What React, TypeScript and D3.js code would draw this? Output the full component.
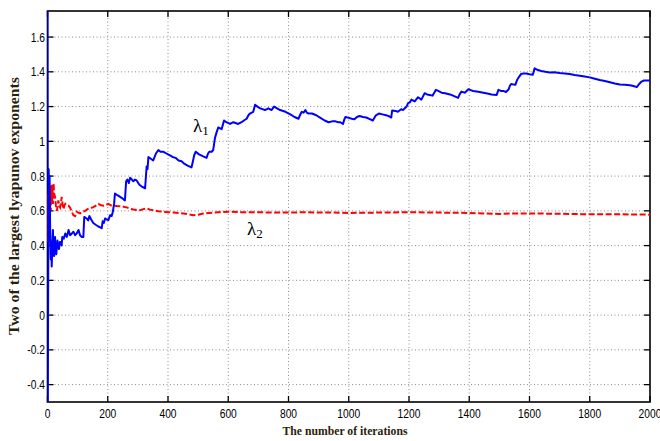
import React from "react";
import * as d3 from "d3";

const xTicks = [0, 200, 400, 600, 800, 1000, 1200, 1400, 1600, 1800, 2000];
const yTicks = [-0.4, -0.2, 0, 0.2, 0.4, 0.6, 0.8, 1, 1.2, 1.4, 1.6];
const yTickLabels = ["-0.4", "-0.2", "0", "0.2", "0.4", "0.6", "0.8", "1", "1.2", "1.4", "1.6"];

const lambda1: [number, number][] = [
  [0, 1.9], [1, -0.6], [2, 0.05], [3, 0.5], [4, 0.84], [6, 0.62], [7, 0.8], [9, 0.47], [11, 0.32], [13, 0.42], [14, 0.28],
  [16, 0.4], [18, 0.49], [20, 0.36], [22, 0.34], [25, 0.45], [27, 0.37], [29, 0.35], [33, 0.43], [36, 0.39], [38, 0.38],
  [41, 0.42], [44, 0.42], [47, 0.4], [49, 0.45], [54, 0.44], [59, 0.47], [64, 0.45], [70, 0.49], [75, 0.46], [81, 0.47],
  [86, 0.48], [92, 0.46], [97, 0.47], [103, 0.49], [108, 0.46], [114, 0.45], [119, 0.45], [122, 0.565], [130, 0.556],
  [135, 0.545], [139, 0.57], [145, 0.55], [152, 0.53], [160, 0.52], [169, 0.51], [175, 0.505], [180, 0.5], [183, 0.54],
  [187, 0.53], [191, 0.556], [197, 0.55], [202, 0.547], [208, 0.575], [213, 0.57], [217, 0.595], [221, 0.64], [224, 0.7],
  [232, 0.69], [241, 0.68], [250, 0.67], [257, 0.66], [261, 0.77], [265, 0.78], [270, 0.76], [274, 0.79], [280, 0.78],
  [285, 0.77], [290, 0.78], [296, 0.775], [305, 0.75], [313, 0.74], [324, 0.73], [329, 0.855], [332, 0.84], [335, 0.91],
  [343, 0.9], [351, 0.89], [360, 0.93], [368, 0.95], [375, 0.94], [385, 0.94], [395, 0.93], [405, 0.92], [415, 0.91],
  [425, 0.905], [435, 0.89], [445, 0.885], [455, 0.87], [465, 0.86], [478, 0.85], [482, 0.88], [487, 0.92], [492, 0.94],
  [503, 0.925], [515, 0.915], [528, 0.905], [533, 0.93], [537, 0.94], [545, 0.94], [550, 0.95], [556, 1.02], [561, 1.05],
  [567, 1.08], [578, 1.07], [586, 1.12], [594, 1.11], [606, 1.1], [617, 1.11], [633, 1.1], [644, 1.11], [652, 1.12],
  [661, 1.13], [667, 1.15], [672, 1.16], [683, 1.17], [689, 1.21], [697, 1.2], [706, 1.19], [714, 1.185], [722, 1.18],
  [733, 1.19], [744, 1.18], [752, 1.2], [762, 1.19], [772, 1.18], [790, 1.17], [806, 1.155], [820, 1.14], [833, 1.13],
  [838, 1.15], [844, 1.17], [850, 1.165], [856, 1.18], [861, 1.165], [867, 1.16], [878, 1.16], [892, 1.15], [906, 1.135],
  [920, 1.12], [933, 1.11], [945, 1.115], [956, 1.115], [965, 1.11], [972, 1.11], [981, 1.1], [985, 1.125], [989, 1.14],
  [1000, 1.135], [1010, 1.13], [1019, 1.127], [1027, 1.14], [1036, 1.146], [1047, 1.14], [1058, 1.137], [1070, 1.128],
  [1080, 1.12], [1090, 1.15], [1100, 1.16], [1112, 1.155], [1124, 1.15], [1133, 1.145], [1141, 1.137], [1144, 1.177],
  [1155, 1.175], [1163, 1.17], [1174, 1.185], [1180, 1.18], [1186, 1.19], [1192, 1.2], [1197, 1.22], [1203, 1.225],
  [1208, 1.24], [1219, 1.23], [1230, 1.254], [1241, 1.24], [1247, 1.26], [1252, 1.277], [1260, 1.27], [1269, 1.267],
  [1278, 1.263], [1289, 1.296], [1297, 1.29], [1308, 1.28], [1320, 1.277], [1336, 1.27], [1350, 1.26], [1363, 1.25],
  [1368, 1.27], [1374, 1.286], [1386, 1.28], [1397, 1.3], [1405, 1.295], [1413, 1.29], [1430, 1.285], [1447, 1.28],
  [1460, 1.275], [1474, 1.27], [1491, 1.267], [1497, 1.296], [1505, 1.29], [1513, 1.29], [1522, 1.284], [1531, 1.3],
  [1535, 1.32], [1539, 1.33], [1553, 1.325], [1557, 1.345], [1561, 1.36], [1567, 1.375], [1572, 1.387], [1580, 1.39],
  [1589, 1.39], [1600, 1.386], [1611, 1.383], [1617, 1.42], [1628, 1.41], [1639, 1.405], [1653, 1.4], [1667, 1.396],
  [1683, 1.397], [1700, 1.393], [1717, 1.39], [1733, 1.387], [1750, 1.382], [1767, 1.378], [1783, 1.373], [1800, 1.368],
  [1817, 1.36], [1833, 1.353], [1850, 1.347], [1867, 1.34], [1883, 1.333], [1900, 1.327], [1917, 1.325], [1933, 1.323],
  [1945, 1.318], [1956, 1.312], [1964, 1.33], [1972, 1.344], [1980, 1.35], [1989, 1.35], [2000, 1.35],
];

const lambda2: [number, number][] = [
  [0, 0.42], [1, 0.55], [2, 0.7], [3, 0.45], [4, 0.72], [5, 0.52], [6, 0.68], [7, 0.6], [8, 0.74], [9, 0.62], [10, 0.7],
  [11, 0.6], [12, 0.73], [13, 0.65], [14, 0.75], [15, 0.66], [17, 0.72], [18, 0.64], [20, 0.76], [22, 0.7], [25, 0.68],
  [28, 0.63], [31, 0.6], [34, 0.63], [36, 0.66], [39, 0.63], [42, 0.62], [45, 0.65], [47, 0.68], [50, 0.64], [53, 0.61],
  [56, 0.63], [59, 0.64], [64, 0.63], [70, 0.63], [74, 0.62], [77, 0.61], [82, 0.59], [86, 0.575], [92, 0.57], [97, 0.595],
  [102, 0.59], [108, 0.585], [116, 0.595], [125, 0.6], [133, 0.61], [141, 0.614], [150, 0.62], [158, 0.627], [169, 0.64],
  [178, 0.632], [186, 0.63], [195, 0.635], [202, 0.64], [210, 0.632], [219, 0.63], [230, 0.628], [241, 0.627], [252, 0.624],
  [263, 0.62], [275, 0.612], [285, 0.608], [296, 0.605], [307, 0.604], [318, 0.61], [329, 0.614], [340, 0.607], [351, 0.604],
  [368, 0.598], [385, 0.595], [400, 0.592], [418, 0.59], [435, 0.588], [451, 0.585], [468, 0.58], [484, 0.575], [500, 0.578],
  [517, 0.585], [535, 0.588], [550, 0.59], [575, 0.593], [600, 0.595], [650, 0.592], [700, 0.592], [750, 0.59], [800, 0.59],
  [850, 0.592], [900, 0.59], [950, 0.59], [1000, 0.588], [1100, 0.59], [1200, 0.592], [1300, 0.59], [1400, 0.588],
  [1450, 0.585], [1500, 0.582], [1550, 0.585], [1600, 0.585], [1700, 0.583], [1800, 0.58], [1900, 0.58], [2000, 0.578],
];

const W = 660;
const H = 441;
const L = 47.5;
const R = 650;
const T = 11;
const B = 402;

export default function App() {
  const x = d3.scaleLinear().domain([0, 2000]).range([L, R]);
  const y = d3.scaleLinear().domain([-0.5, 1.75]).range([B, T]);
  const line = d3
    .line<[number, number]>()
    .x((d) => x(d[0]))
    .y((d) => y(d[1]));
  const tickFont = "'Liberation Sans', Arial, sans-serif";
  const serif = "'Liberation Serif', 'Times New Roman', serif";
  const labelColor = "#2a1d0c";
  return (
    <svg width={W} height={H} style={{ position: "absolute", left: 0, top: 0, background: "#fff" }}>
      <defs>
        <clipPath id="plot">
          <rect x={L} y={T} width={R - L} height={B - T} />
        </clipPath>
      </defs>
      <rect x={0} y={0} width={W} height={H} fill="#fff" />
      {/* grid */}
      {xTicks.slice(1, -1).map((t) => (
        <line key={"gx" + t} x1={x(t)} x2={x(t)} y1={T} y2={B} stroke="#8c8c8c" strokeWidth={1} strokeDasharray="1,2.5" />
      ))}
      {yTicks.map((t) => (
        <line key={"gy" + t} x1={L} x2={R} y1={y(t)} y2={y(t)} stroke="#8c8c8c" strokeWidth={1} strokeDasharray="1,2.5" />
      ))}
      {/* ticks */}
      {xTicks.map((t) => (
        <g key={"tx" + t}>
          <line x1={x(t)} x2={x(t)} y1={B} y2={B - 6} stroke="#000" strokeWidth={1.3} />
          <line x1={x(t)} x2={x(t)} y1={T} y2={T + 6} stroke="#000" strokeWidth={1.3} />
          <text
            transform={`translate(${x(t)},417.5) scale(0.82,1)`}
            textAnchor="middle"
            fontFamily={tickFont}
            fontSize={12.5}
            fill="#000"
          >
            {t}
          </text>
        </g>
      ))}
      {yTicks.map((t, i) => (
        <g key={"ty" + t}>
          <line x1={L} x2={L + 6} y1={y(t)} y2={y(t)} stroke="#000" strokeWidth={1.3} />
          <line x1={R} x2={R - 6} y1={y(t)} y2={y(t)} stroke="#000" strokeWidth={1.3} />
          <text
            transform={`translate(${L - 2.5},${y(t) + 4.5}) scale(0.82,1)`}
            textAnchor="end"
            fontFamily={tickFont}
            fontSize={12.5}
            fill="#000"
          >
            {yTickLabels[i]}
          </text>
        </g>
      ))}
      {/* frame */}
      <rect x={L} y={T} width={R - L} height={B - T} fill="none" stroke="#000" strokeWidth={1.6} />
      {/* data */}
      <g clipPath="url(#plot)">
        <path d={line(lambda2) || ""} fill="none" stroke="#ff0000" strokeWidth={2} strokeDasharray="6,2.5" />
        <path d={line(lambda1) || ""} fill="none" stroke="#0000ff" strokeWidth={2} strokeLinejoin="round" />
      </g>
      {/* lambda labels */}
      <text x={193} y={132} fontFamily={serif} fontSize={19} fill="#000">
        λ<tspan fontSize={13} dy={3}>1</tspan>
      </text>
      <text x={247} y={235} fontFamily={serif} fontSize={19} fill="#000">
        λ<tspan fontSize={13} dy={3}>2</tspan>
      </text>
      {/* axis labels */}
      <text
        x={345}
        y={435}
        textAnchor="middle"
        fontFamily={serif}
        fontWeight="bold"
        fontSize={13}
        fill={labelColor}
        textLength={125}
        lengthAdjust="spacingAndGlyphs"
      >
        The number of iterations
      </text>
      <text
        transform={`translate(19,206) rotate(-90)`}
        textAnchor="middle"
        fontFamily={serif}
        fontWeight="bold"
        fontSize={14}
        fill={labelColor}
        textLength={258}
        lengthAdjust="spacingAndGlyphs"
      >
        Two of the largest lyapunov exponents
      </text>
    </svg>
  );
}
